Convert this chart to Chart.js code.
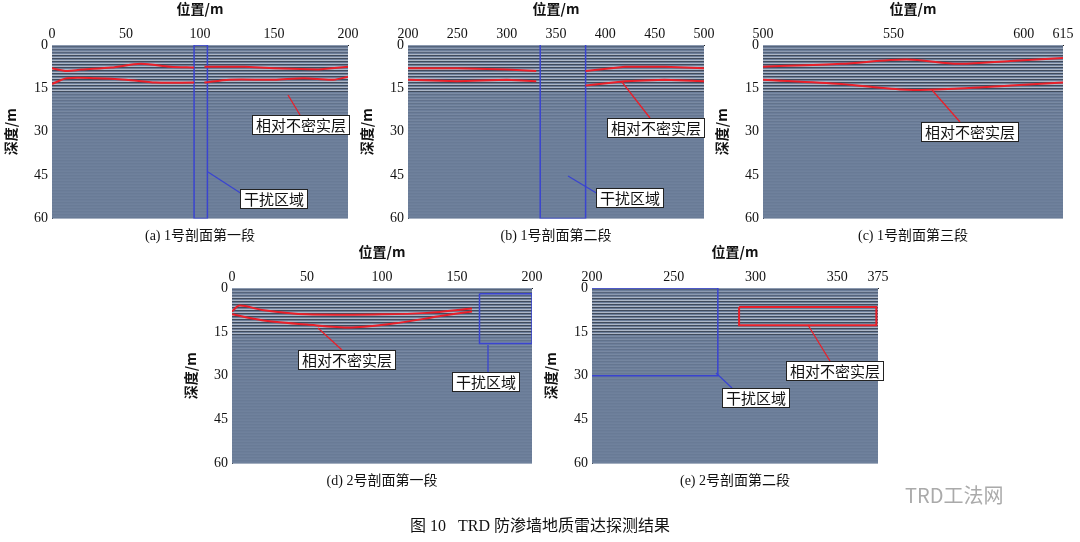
<!DOCTYPE html>
<html><head><meta charset="utf-8">
<script src="https://cdn.jsdelivr.net/npm/chart.js@4"></script>
<style>
body{margin:0;width:1080px;height:542px;background:#fff;position:relative;overflow:hidden;font-family:"Liberation Serif","Noto Serif CJK SC","Noto Sans CJK SC",serif}
canvas{position:absolute}
.lbl{position:absolute;background:#fff;border:1px solid #222;font:15px "Noto Sans CJK SC",sans-serif;padding:0 3px;line-height:18px;color:#111}
.cap{position:absolute;font:14px "Liberation Serif","Noto Sans CJK SC",serif;color:#111;transform:translateX(-50%);white-space:nowrap}
svg{position:absolute;left:0;top:0}
</style></head><body>
<script>
// ---- data ----
const aUpperL=[[0,8],[10,9],[20,8.5],[40,7.8],[60,6.5],[80,7.5],[96,7.8]];
const aUpperR=[[103,7.5],[130,7.5],[150,8],[180,8.5],[200,7.5]];
const aLowerL=[[0,13.5],[10,11.5],[30,11.5],[50,12],[70,13],[96,13]];
const aLowerR=[[103,13],[120,12],[150,12],[170,11.5],[190,12],[200,11]];
const aBox=[[96,0],[96,60],[105,60],[105,0],[96,0]];
const bUpperL=[[200,8],[250,8],[300,8.5],[330,9]];
const bUpperR=[[380,9],[420,7.5],[460,7.5],[500,8]];
const bLowerL=[[200,12],[250,12.5],[300,12],[330,12.5]];
const bLowerR=[[380,14],[420,12.5],[460,12],[500,12.5]];
const bBox=[[334,0],[334,60],[380,60],[380,0]];
const cUpper=[[500,7.5],[530,6.5],[555,5],[575,6.5],[595,5.5],[615,4.5]];
const cLower=[[500,12],[530,13.5],[555,15.5],[575,15],[595,14],[615,13]];
const dUpper=[[0,8],[5,6],[20,7.5],[50,9],[100,9],[130,8.5],[160,7]];
const dLower=[[0,9],[20,11],[50,12.5],[80,13.5],[110,12],[140,9.5],[160,8]];
const dBox=[[165,2],[200,2],[200,19],[165,19],[165,2]];
const eBox=[[200,0],[277,0],[277,30],[200,30]];
const eRed=[[290,6.5],[374,6.5],[374,12.7],[290,12.7],[290,6.5]];
const ticksA=[0,50,100,150,200], ticksB=[200,250,300,350,400,450,500],
      ticksC=[500,550,600,615], ticksD=[0,50,100,150,200], ticksE=[200,250,300,350,375];
const depthTicks=[0,15,30,45,60];
// ---- panels ----
const RED='#e8202a', BLUE='#3a44d0';
const panels=[
 {r:[52,45,348,218],x:[0,200],t:ticksA,sets:[[aUpperL,RED],[aUpperR,RED],[aLowerL,RED],[aLowerR,RED],[aBox,BLUE]]},
 {r:[408,45,704,218],x:[200,500],t:ticksB,sets:[[bUpperL,RED],[bUpperR,RED],[bLowerL,RED],[bLowerR,RED],[bBox,BLUE]]},
 {r:[763,45,1063,218],x:[500,615],t:ticksC,sets:[[cUpper,RED],[cLower,RED]]},
 {r:[232,288,532,463],x:[0,200],t:ticksD,sets:[[dUpper,RED],[dLower,RED],[dBox,BLUE]]},
 {r:[592,288,878,463],x:[200,375],t:ticksE,sets:[[eBox,BLUE],[eRed,RED]]},
];
const texture={id:'tex',beforeDatasetsDraw(c){
  const a=c.chartArea,ctx=c.ctx;ctx.save();
  ctx.fillStyle='#6c7e9a';ctx.fillRect(a.left,a.top,a.width,a.height);
  const h=a.height;
  for(let y=a.top;y<a.bottom;y+=3){
    const d=(y-a.top)/h;
    let s=d<0.04?0.4:d<0.27?0.8:Math.max(0.04,0.35-d*0.55);
    ctx.fillStyle='rgba(255,255,255,'+(s*0.55)+')';ctx.fillRect(a.left,y,a.width,1);
    ctx.fillStyle='rgba(0,0,0,'+(s*0.5)+')';ctx.fillRect(a.left,y+1,a.width,1);
  }
  ctx.restore();}};
panels.forEach(p=>{
  const [L,T,R,B]=p.r, W=R-L+70, H=B-T+58;
  const cv=document.createElement('canvas');
  cv.style.left=(L-50)+'px';cv.style.top=(T-45)+'px';cv.style.width=W+'px';cv.style.height=H+'px';
  document.body.appendChild(cv);
  new Chart(cv,{type:'line',plugins:[texture],
   data:{datasets:p.sets.map(s=>({data:s[0].map(q=>({x:q[0],y:q[1]})),borderColor:s[1],borderWidth:s[1]==RED?2:1.5,pointRadius:0,tension:s[0].length>5&&s[1]==RED&&s[0][0][0]!==s[0][s[0].length-1][0]?0.3:0,fill:false}))},
   options:{responsive:false,animation:false,devicePixelRatio:1,
    layout:{padding:{left:0,right:20,top:0,bottom:0}},
    plugins:{legend:{display:false},tooltip:{enabled:false}},
    scales:{
     x:{type:'linear',position:'top',min:p.x[0],max:p.x[1],
        afterBuildTicks:s=>{s.ticks=p.t.map(v=>({value:v}));},
        afterFit:s=>{s.height=45;},
        grid:{display:false,drawTicks:false},border:{color:'#222'},
        ticks:{color:'#111',font:{family:'Liberation Serif',size:14},padding:2,autoSkip:false,maxRotation:0},
        title:{display:true,text:'位置/m',color:'#111',font:{family:'Noto Sans CJK SC',size:14,weight:'bold'},padding:{top:0,bottom:0}}},
     y:{type:'linear',reverse:true,min:0,max:60,
        afterBuildTicks:s=>{s.ticks=depthTicks.map(v=>({value:v}));},
        afterFit:s=>{s.width=50;},
        grid:{display:false,drawTicks:false},border:{color:'#222'},
        ticks:{color:'#111',font:{family:'Liberation Serif',size:14},padding:4},
        title:{display:true,text:'深度/m',color:'#111',font:{family:'Noto Sans CJK SC',size:14,weight:'bold'},padding:{top:0,bottom:2}}}}}});
});
// ---- annotations ----
const labels=[
 ['相对不密实层',252,115,[288,95],[300,115]],
 ['干扰区域',240,189,[208,172],[242,194]],
 ['相对不密实层',607,118,[622,82],[650,118]],
 ['干扰区域',596,188,[568,176],[598,194]],
 ['相对不密实层',921,122,[932,90],[960,122]],
 ['相对不密实层',298,350,[318,328],[342,350]],
 ['干扰区域',452,372,[488,345],[488,372]],
 ['相对不密实层',786,361,[808,325],[830,361]],
 ['干扰区域',722,388,[716,373],[732,388]],
];
let svg='<svg width="1080" height="542">';
labels.forEach(l=>{svg+=`<line x1="${l[3][0]}" y1="${l[3][1]}" x2="${l[4][0]}" y2="${l[4][1]}" stroke="${l[0].length>4?RED:BLUE}" stroke-width="1.3"/>`;});
svg+='</svg>';
document.body.insertAdjacentHTML('beforeend',svg);
labels.forEach(l=>{document.body.insertAdjacentHTML('beforeend',`<div class="lbl" style="left:${l[1]}px;top:${l[2]}px">${l[0]}</div>`);});
const caps=[['(a) 1号剖面第一段',200,224],['(b) 1号剖面第二段',556,224],['(c) 1号剖面第三段',913,224],['(d) 2号剖面第一段',382,469],['(e) 2号剖面第二段',735,469]];
caps.forEach(c=>document.body.insertAdjacentHTML('beforeend',`<div class="cap" style="left:${c[1]}px;top:${c[2]}px">${c[0]}</div>`));
document.body.insertAdjacentHTML('beforeend','<div class="cap" style="left:540px;top:512px;font-size:16px">图 10&nbsp;&nbsp;&nbsp;TRD 防渗墙地质雷达探测结果</div>');
document.body.insertAdjacentHTML('beforeend','<div style="position:absolute;left:905px;top:480px;font:20px \'Noto Sans CJK SC\',sans-serif;color:#aaa">TRD工法网</div>');
</script></body></html>
